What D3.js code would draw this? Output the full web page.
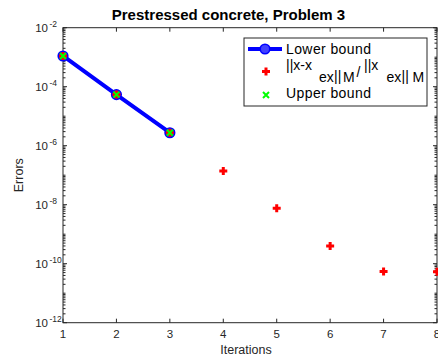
<!DOCTYPE html>
<html><head><meta charset="utf-8">
<script src="https://cdn.jsdelivr.net/npm/d3@7/dist/d3.min.js"></script>
<style>
html,body{margin:0;padding:0;background:#fff;}
svg{display:block;font-family:"Liberation Sans",Arial,Helvetica,sans-serif;}
</style></head>
<body>
<svg id="chart" width="438" height="361"></svg>
<script>
const iterations = [1, 2, 3, 4, 5, 6, 7, 8];
const lowerBound = [1.1e-3, 5.4e-5, 2.75e-6];
const relError = [1.1e-3, 5.4e-5, 2.75e-6, 1.4e-7, 7.6e-9, 4.0e-10, 5.4e-11, 5.3e-11];
const upperBound = [1.1e-3, 5.4e-5, 2.75e-6];
const xTicks = [1, 2, 3, 4, 5, 6, 7, 8];
const yTickExps = [-12, -10, -8, -6, -4, -2];
const titleText = "Prestressed concrete, Problem 3";
const xLabel = "Iterations";
const yLabel = "Errors";
const legendLabels = ["Lower bound", "||x-x_ex||_M / ||x_ex||_M", "Upper bound"];

const svg = d3.select("#chart");
const L = 63, R = 437, T = 27.7, B = 322.7;
const x = d3.scaleLinear().domain([1, 8]).range([L, R]);
const y = d3.scaleLog().domain([1e-12, 1e-2]).range([B, T]);
const axisColor = "#262626";

// Box
svg.append("rect").attr("x", L).attr("y", T).attr("width", R - L).attr("height", B - T)
  .attr("fill", "none").attr("stroke", axisColor).attr("stroke-width", 1);

// x ticks
const g = svg.append("g").attr("stroke", axisColor).attr("stroke-width", 1);
xTicks.forEach(t => {
  const px = x(t);
  g.append("line").attr("x1", px).attr("x2", px).attr("y1", B).attr("y2", B - 4);
  g.append("line").attr("x1", px).attr("x2", px).attr("y1", T).attr("y2", T + 4);
});
svg.append("g").selectAll("text").data(xTicks).join("text")
  .attr("x", d => x(d)).attr("y", 338).attr("text-anchor", "middle")
  .attr("font-size", 11.5).attr("fill", axisColor).text(d => d);

// y ticks (major every 2 decades, minor elsewhere)
for (let e = -12; e < -2; e++) {
  for (let m = 1; m <= 9; m++) {
    const v = m * Math.pow(10, e);
    const py = y(v);
    const isMajor = (m === 1 && yTickExps.includes(e));
    const len = isMajor ? 4 : 2.5;
    g.append("line").attr("x1", L).attr("x2", L + len).attr("y1", py).attr("y2", py);
    g.append("line").attr("x1", R).attr("x2", R - len).attr("y1", py).attr("y2", py);
  }
}
g.append("line").attr("x1", L).attr("x2", L + 4).attr("y1", y(1e-2)).attr("y2", y(1e-2));
g.append("line").attr("x1", R).attr("x2", R - 4).attr("y1", y(1e-2)).attr("y2", y(1e-2));

const ylg = svg.append("g");
ylg.selectAll("text.base").data(yTickExps).join("text").attr("class", "base")
  .attr("x", 48).attr("y", d => y(Math.pow(10, d)) + 4.6)
  .attr("text-anchor", "end").attr("font-size", 11.5).attr("fill", axisColor).text("10");
ylg.selectAll("text.exp").data(yTickExps).join("text").attr("class", "exp")
  .attr("x", 49.5).attr("y", d => y(Math.pow(10, d)) - 0.5)
  .attr("text-anchor", "start").attr("font-size", 8.5).attr("fill", axisColor).text(d => d);

// Labels and title
svg.append("text").attr("x", 246).attr("y", 354).attr("text-anchor", "middle")
  .attr("font-size", 12.5).attr("fill", axisColor).text(xLabel);
svg.append("text").attr("transform", `translate(23,${(T + B) / 2}) rotate(-90)`)
  .attr("text-anchor", "middle").attr("font-size", 12.5).attr("fill", axisColor).text(yLabel);
svg.append("text").attr("x", 228.5).attr("y", 20).attr("text-anchor", "middle")
  .attr("font-size", 15).attr("font-weight", "bold").attr("fill", "#000").text(titleText);

// Marker helpers
function plus(sel, cx, cy) {
  sel.append("path").attr("d", `M${cx - 4},${cy}H${cx + 4}M${cx},${cy - 4}V${cy + 4}`)
    .attr("stroke", "#ff0000").attr("stroke-width", 3).attr("fill", "none");
}
function cross(sel, cx, cy) {
  sel.append("path").attr("d", `M${cx - 3},${cy - 3}L${cx + 3},${cy + 3}M${cx - 3},${cy + 3}L${cx + 3},${cy - 3}`)
    .attr("stroke", "#00ff00").attr("stroke-width", 2).attr("fill", "none");
}
function circ(sel, cx, cy) {
  sel.append("circle").attr("cx", cx).attr("cy", cy).attr("r", 4.8)
    .attr("fill", "#3030e0").attr("stroke", "#0000ff").attr("stroke-width", 1.6);
}

// Lower bound line
const line = d3.line().x((d, i) => x(iterations[i])).y(d => y(d));
svg.append("path").datum(lowerBound).attr("d", line)
  .attr("fill", "none").attr("stroke", "#0000ff").attr("stroke-width", 4);
const marks = svg.append("g");
lowerBound.forEach((v, i) => circ(marks, x(iterations[i]), y(v)));
relError.forEach((v, i) => plus(marks, x(iterations[i]), y(v)));
upperBound.forEach((v, i) => cross(marks, x(iterations[i]), y(v)));

// Legend
const lg = svg.append("g");
lg.append("rect").attr("x", 244).attr("y", 38).attr("width", 183).attr("height", 68)
  .attr("fill", "#fff").attr("stroke", axisColor).attr("stroke-width", 1);
lg.append("line").attr("x1", 248).attr("x2", 282).attr("y1", 49).attr("y2", 49)
  .attr("stroke", "#0000ff").attr("stroke-width", 4);
lg.append("circle").attr("cx", 265).attr("cy", 49).attr("r", 4.8)
  .attr("fill", "#4040ff").attr("stroke", "#0000ff").attr("stroke-width", 1.6);
plus(lg, 266, 71.5);
cross(lg, 266, 95);
const lfs = 14;
lg.append("text").attr("x", 286).attr("y", 53.5).attr("font-size", lfs).attr("letter-spacing", 0.4)
  .attr("fill", "#000").text(legendLabels[0]);
lg.append("text").attr("x", 286).attr("y", 97.5).attr("font-size", lfs).attr("letter-spacing", 0.4)
  .attr("fill", "#000").text(legendLabels[2]);
// Second entry with subscripts
const parts = [
  {t: "||x-x", x: 286, y: 70},
  {t: "ex", x: 319, y: 81.5},
  {t: "||", x: 334, y: 80.5},
  {t: "M", x: 343, y: 81.5},
  {t: "/", x: 356.5, y: 77},
  {t: "||x", x: 364, y: 70},
  {t: "ex", x: 386.5, y: 81.5},
  {t: "||", x: 401.5, y: 80.5},
  {t: "M", x: 412.5, y: 81.5}
];
const t2 = lg.append("text").attr("font-size", lfs).attr("fill", "#000");
parts.forEach(p => t2.append("tspan").attr("x", p.x).attr("y", p.y).text(p.t));
</script>
</body></html>
